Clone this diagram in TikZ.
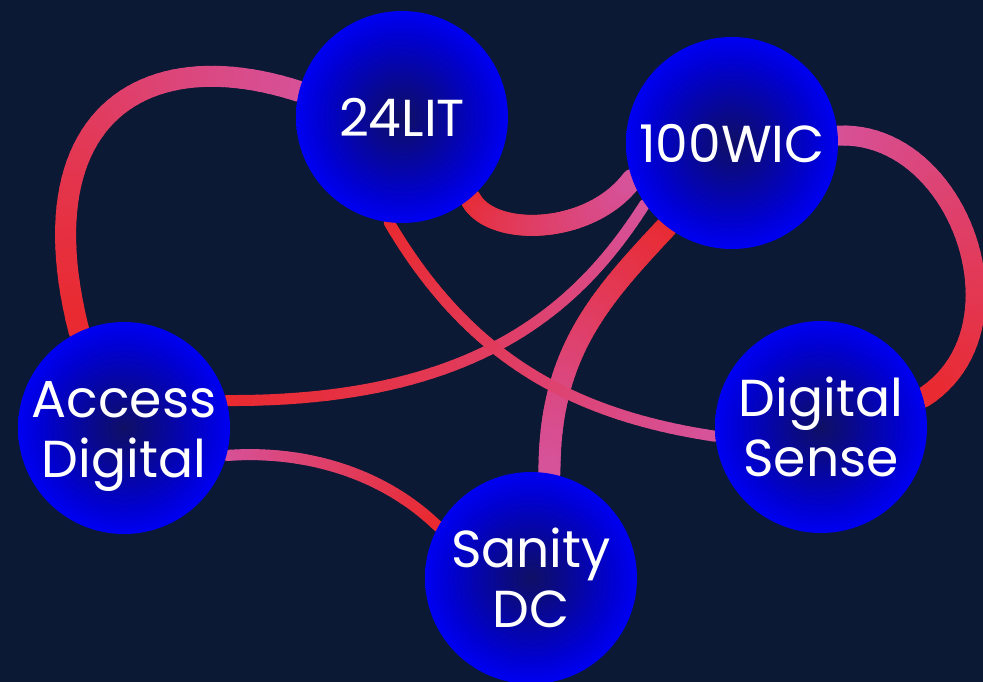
\documentclass[tikz,border=0pt]{standalone}
\usepackage{fontspec}
\setmainfont{Poppins}
\definecolor{navy}{HTML}{0B1934}
\definecolor{lred}{HTML}{E92A30}
\definecolor{lpink}{HTML}{D6529A}
\pgfdeclarelayer{back}
\pgfdeclarelayer{links}
\pgfsetlayers{back,links,main}
\pgfdeclareradialshading{orb}{\pgfpoint{0bp}{0bp}}{rgb(0bp)=(0.06,0.06,0.40); rgb(6bp)=(0.04,0.04,0.52); rgb(13bp)=(0.02,0.02,0.68); rgb(20bp)=(0,0,0.84); rgb(25bp)=(0,0,0.95); rgb(50bp)=(0,0,0.95)}
\tikzset{orbnode/.style={circle, minimum size=212pt, inner sep=0pt, shading=orb, text=white, font=\fontsize{52}{60}\selectfont}}
\newcommand\onel[1]{\raisebox{-19pt}[0pt][0pt]{#1}}
\newcommand\twol[2]{\raisebox{-49pt}[0pt][0pt]{\begin{tabular}[b]{@{}c@{}}#1\\#2\end{tabular}}}
\newcommand\glink[4]{%
  \path #1 foreach \k [evaluate=\k as \gt using \k/48] in {0,...,48}{coordinate[pos=\gt] (gp\k)};
  \foreach \k in {0,...,47}{%
    \pgfmathtruncatemacro\gkn{\k+1}%
    \pgfmathsetmacro\gpc{100*(\k+0.5)/48}%
    \draw[line width=#2, line cap=round, color=#4!\gpc!#3] (gp\k) -- (gp\gkn);
  }%
}
\begin{document}
\begin{tikzpicture}[x=1pt,y=-1pt]
\useasboundingbox (0,0) rectangle (983,681);
\clip (0,0) rectangle (983,681);
\begin{pgfonlayer}{back}
\fill[navy] (-5,-5) rectangle (988,686);
\end{pgfonlayer}
\node[orbnode] (lit) at (402,117) {\onel{24LIT}};
\node[orbnode] (wic) at (732,143) {\onel{100WIC}};
\node[orbnode] (ad) at (124,428) {\twol{Access}{Digital}};
\node[orbnode] (sdc) at (531,578) {\twol{Sanity}{DC}};
\node[orbnode] (ds) at (821,427) {\twol{Digital}{Sense}};
\begin{pgfonlayer}{links}
\glink{(lit.166) .. controls (140,40) and (25,120) .. (ad.115)}{21pt}{lpink}{lred}
\glink{(lit.-50) .. controls (490,238) and (590,236) .. (wic.200)}{21pt}{lred}{lpink}
\glink{(wic.4) .. controls (960,130) and (1030,330) .. (ds.16)}{20pt}{lpink}{lred}
\glink{(ad.-15) .. controls (300,450) and (380,470) .. (sdc.151)}{11pt}{lpink}{lred}
\glink{(wic.232) .. controls (600,298) and (549,353) .. (sdc.80)}{22pt}{lred}{lpink}
\glink{(ad.15) .. controls (478,402) and (580,306) .. (wic.215)}{11pt}{lred}{lpink}
\glink{(lit.263) .. controls (466,353) and (566,414) .. (ds.185)}{11pt}{lred}{lpink}
\end{pgfonlayer}
\end{tikzpicture}
\end{document}
